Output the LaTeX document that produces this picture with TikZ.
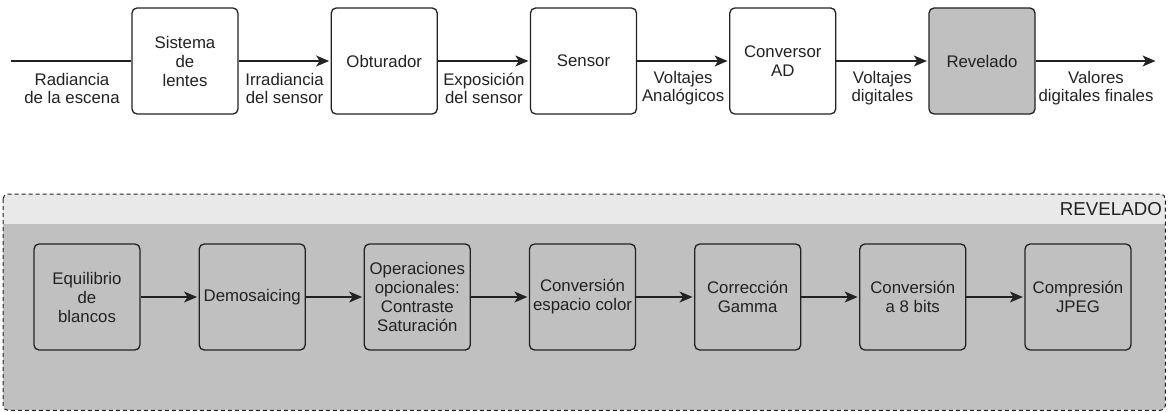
\documentclass[tikz,border=0pt]{standalone}
\usepackage{fontspec}
\setmainfont{Liberation Sans}
\usetikzlibrary{arrows.meta}
\definecolor{boxgray}{HTML}{C0C0C0}
\definecolor{hdrgray}{HTML}{E9E9E9}
\definecolor{ink}{HTML}{222222}
\tikzset{
  blk/.style={draw=ink, line width=1.3pt, rounded corners=5pt, minimum width=106pt,
    minimum height=106pt, inner sep=1pt, align=center, text=ink,
    font=\fontsize{16.8}{19}\selectfont},
  whiteblk/.style={blk, fill=white},
  grayblk/.style={blk, fill=boxgray},
  lbl/.style={align=center, text=ink, inner sep=0pt, font=\fontsize{16.8}{18}\selectfont},
  conn/.style={draw=ink, line width=1.3pt},
  arr/.style={conn, shorten >=1.5pt, -{Stealth[length=13pt,width=11pt,inset=3.5pt]}},
}
\begin{document}
\begin{tikzpicture}[x=1pt,y=-1pt]
\useasboundingbox (0,0) rectangle (1168,412);
% top chain
\coordinate (in) at (11,61);
\coordinate (out) at (1157,61);
\node[whiteblk] (t1) at (185,61) {Sistema\\de\\lentes};
\node[whiteblk] (t2) at (384.25,61) {Obturador};
\node[whiteblk] (t3) at (583.5,61) {Sensor};
\node[whiteblk] (t4) at (782.75,61) {Conversor\\AD};
\node[grayblk] (t5) at (982,61) {Revelado};
\draw[conn] (in) -- (t1);
\draw[arr] (t1) -- (t2);
\draw[arr] (t2) -- (t3);
\draw[arr] (t3) -- (t4);
\draw[arr] (t4) -- (t5);
\draw[arr] (t5) -- (out);
\node[lbl] (l0) at (72,88.5) {Radiancia\\de la escena};
\node[lbl] (l1) at (284.6,88.5) {Irradiancia\\del sensor};
\node[lbl] (l2) at (483.9,88.5) {Exposición\\del sensor};
\node[lbl] (l3) at (683.1,88.5) {Voltajes\\Analógicos};
\node[lbl] (l4) at (882.4,88.5) {Voltajes\\digitales};
\node[lbl] (l5) at (1096,88.5) {Valores\\digitales finales};
% container
\node[fill=boxgray, minimum width=1162pt, minimum height=216pt, inner sep=0pt,
      rounded corners=5pt, anchor=north west] (cont) at (3,194) {};
\begin{scope}
  \clip[rounded corners=5pt] (cont.north west) rectangle (cont.south east);
  \fill[hdrgray] (cont.north west) rectangle ([yshift=-30pt]cont.north east);
\end{scope}
\draw[draw=ink, line width=1pt, dash pattern=on 4pt off 3pt, rounded corners=5pt]
  (cont.north west) rectangle (cont.south east);
\node[text=ink, anchor=east, inner sep=0pt, font=\fontsize{18.7}{20}\selectfont]
  (contlbl) at (1162,209) {REVELADO};
% bottom chain
\node[grayblk] (b1) at (87,297) {Equilibrio\\de\\blancos};
\node[grayblk] (b2) at (252.2,297) {Demosaicing};
\node[grayblk] (b3) at (417.3,297) {Operaciones\\opcionales:\\Contraste\\Saturación};
\node[grayblk] (b4) at (582.5,297) {Conversión\\espacio color};
\node[grayblk] (b5) at (747.7,297) {Corrección\\Gamma};
\node[grayblk] (b6) at (912.8,297) {Conversión\\a 8 bits};
\node[grayblk] (b7) at (1078,297) {Compresión\\JPEG};
\draw[arr] (b1) -- (b2);
\draw[arr] (b2) -- (b3);
\draw[arr] (b3) -- (b4);
\draw[arr] (b4) -- (b5);
\draw[arr] (b5) -- (b6);
\draw[arr] (b6) -- (b7);
\end{tikzpicture}
\end{document}
